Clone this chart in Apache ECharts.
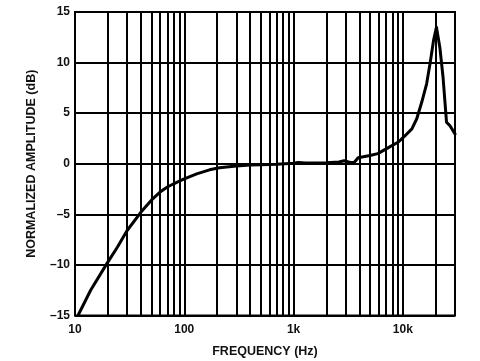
<!DOCTYPE html>
<html>
<head>
<meta charset="utf-8">
<script src="https://cdn.jsdelivr.net/npm/echarts@6/dist/echarts.min.js"></script>
<style>html,body{margin:0;padding:0;background:#fff;}#c{width:480px;height:361px;}</style>
</head>
<body>
<div id="c"></div>
<script>
// Frequency (Hz) and normalized amplitude (dB)
var freqHz = [10.65, 13.9, 19.5, 24.4, 30, 40, 50, 60, 70, 80, 90, 100, 130, 170, 210, 300, 400, 500, 700,
  1000, 1100, 1300, 2000, 2600, 2900, 3300, 3600, 3900, 5000, 5900, 7100, 9100, 10200, 12100,
  13400, 14900, 16500, 17800, 19100, 20300, 21800, 23300, 25100, 26800, 30000];
var ampDb = [-15, -12.5, -9.9, -8.26, -6.6, -4.8, -3.6, -2.8, -2.3, -1.98, -1.72, -1.49, -1.0,
  -0.6, -0.4, -0.22, -0.13, -0.1, -0.05, 0.05, 0.12, 0.08, 0.1, 0.18, 0.3, 0.13, 0.15, 0.6, 0.82, 1.0,
  1.5, 2.15, 2.65, 3.45, 4.45, 6.1, 7.9, 10.0, 12.2, 13.5, 11.5, 8.6, 4.1, 3.8, 2.95];
// Minor (2..9 per decade) grid line positions
var minorGridHz = [20, 30, 40, 50, 60, 70, 80, 90, 200, 300, 400, 500, 600, 700, 800, 900,
  2000, 3000, 4000, 5000, 6000, 7000, 8000, 9000, 20000];
var xTickLabels = {10: '10', 100: '100', 1000: '1k', 10000: '10k'};
var yMin = -15, yMax = 15, yStep = 5;

var data = freqHz.map(function (f, i) { return [f, ampDb[i]]; });
var font = 'Liberation Sans, Arial, sans-serif';
var chart = echarts.init(document.getElementById('c'), null, {renderer: 'canvas'});
chart.setOption({
  backgroundColor: '#ffffff',
  animation: false,
  grid: {left: 75, right: 25, top: 12, bottom: 45.5, show: true, borderColor: '#000', borderWidth: 2,
    containLabel: false, outerBoundsMode: 'none'},
  xAxis: {
    type: 'log', logBase: 10, min: 10, max: 30000,
    name: 'FREQUENCY (Hz)', nameLocation: 'middle', nameGap: 30,
    nameTextStyle: {fontFamily: font, fontWeight: 'bold', fontSize: 12.5, color: '#111'},
    axisLine: {lineStyle: {color: '#000', width: 2}},
    axisTick: {show: false},
    axisLabel: {
      fontFamily: font, fontWeight: 'bold', fontSize: 12, color: '#111', margin: 8,
      formatter: function (v) { var k = Math.round(v); return xTickLabels[k] || ''; }
    },
    splitLine: {show: true, lineStyle: {color: '#000', width: 2}}
  },
  yAxis: {
    type: 'value', min: yMin, max: yMax, interval: yStep,
    name: 'NORMALIZED AMPLITUDE (dB)', nameLocation: 'middle', nameGap: 37,
    nameTextStyle: {fontFamily: font, fontWeight: 'bold', fontSize: 12.5, color: '#111'},
    axisLine: {lineStyle: {color: '#000', width: 2}},
    axisTick: {show: false},
    axisLabel: {
      fontFamily: font, fontWeight: 'bold', fontSize: 12, color: '#111', margin: 5,
      formatter: function (v) { return v < 0 ? '\u2013' + Math.abs(v) : String(v); }
    },
    splitLine: {show: true, lineStyle: {color: '#000', width: 2}}
  },
  series: [{
    type: 'line', data: data, showSymbol: false, smooth: false,
    lineStyle: {color: '#000', width: 3, join: 'round', cap: 'round'}, z: 5,
    markLine: {
      silent: true, symbol: 'none', label: {show: false}, animation: false,
      lineStyle: {color: '#000', width: 2, type: 'solid'},
      data: minorGridHz.map(function (f) { return {xAxis: f}; })
    }
  }]
});
</script>
</body>
</html>
